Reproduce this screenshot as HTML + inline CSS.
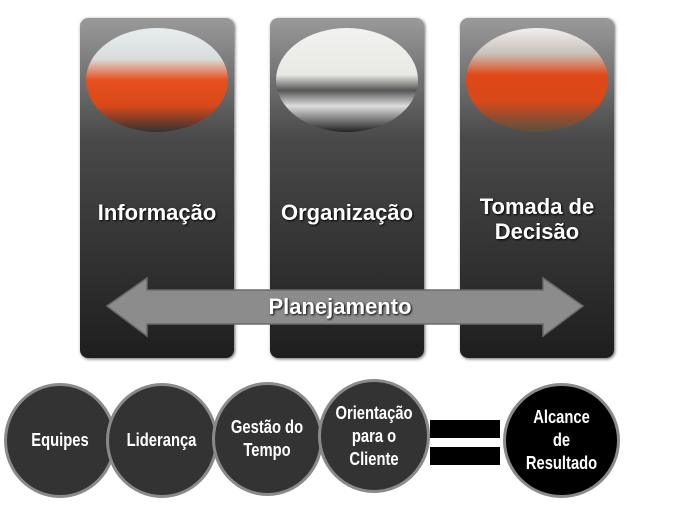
<!DOCTYPE html>
<html><head><meta charset="utf-8"><style>
body{margin:0;width:688px;height:516px;background:#fff;position:relative;overflow:hidden;font-family:"Liberation Sans",sans-serif}
.p{position:absolute;top:18px;width:154px;height:340px;border-radius:8px;background:linear-gradient(#9a9a9a 0%,#4a4a4a 35%,#1e1e1e 100%);box-shadow:1px 1px 3px #666}
.ph{position:absolute;left:6px;top:10px;width:142px;height:104px;border-radius:50%;overflow:hidden}
.t{position:absolute;left:-10px;width:174px;text-align:center;color:#fff;font-weight:bold;font-size:22px;text-shadow:1px 1px 2px #000;line-height:25px}
.c{position:absolute;border-radius:50%;background:#333;border:3px solid #8a8a8a;box-sizing:border-box;display:flex;align-items:center;justify-content:center;text-align:center;color:#fff}
.c span{display:inline-block;font-weight:bold;font-size:18px;line-height:23px;transform:scaleX(0.82);white-space:nowrap}
</style></head><body>
<div class="p" style="left:80px"><div class="ph" style="background:linear-gradient(180deg,#e8eef0 0%,#d8dcdc 30%,#e85020 50%,#d84818 75%,#333 100%)"></div><div class="t" style="top:182px">Informação</div></div>
<div class="p" style="left:270px"><div class="ph" style="background:linear-gradient(180deg,#f2f2f0 0%,#e8e8e4 45%,#555 60%,#ddd 75%,#222 100%)"></div><div class="t" style="top:182px">Organização</div></div>
<div class="p" style="left:460px"><div class="ph" style="background:linear-gradient(180deg,#f0f0ee 0%,#c8c0b8 25%,#e04818 45%,#d84818 70%,#5a5040 100%)"></div><div class="t" style="top:176px">Tomada de<br>Decisão</div></div>
<svg style="position:absolute;left:0;top:0" width="688" height="516">
<polygon points="107,306 147,278 147,290 543,290 543,278 583,306 543,336 543,324 147,324 147,336" fill="#8c8c8c" stroke="#6a6a6a" stroke-width="1.5"/>
<text x="340" y="314" text-anchor="middle" fill="#fff" font-family="Liberation Sans" font-weight="bold" font-size="22" style="text-shadow:1px 1px 2px #000">Planejamento</text>
<rect x="430" y="420" width="70" height="18" fill="#000"/><rect x="430" y="447" width="70" height="18" fill="#000"/>
</svg>
<div class="c" style="left:4px;top:383px;width:112px;height:115px"><span>Equipes</span></div>
<div class="c" style="left:106px;top:383px;width:112px;height:115px"><span>Liderança</span></div>
<div class="c" style="left:212px;top:382px;width:111px;height:114px"><span>Gestão do<br>Tempo</span></div>
<div class="c" style="left:318px;top:379px;width:112px;height:114px"><span>Orientação<br>para o<br>Cliente</span></div>
<div class="c" style="left:503px;top:383px;width:117px;height:115px;background:#000"><span>Alcance<br>de<br>Resultado</span></div>
</body></html>
